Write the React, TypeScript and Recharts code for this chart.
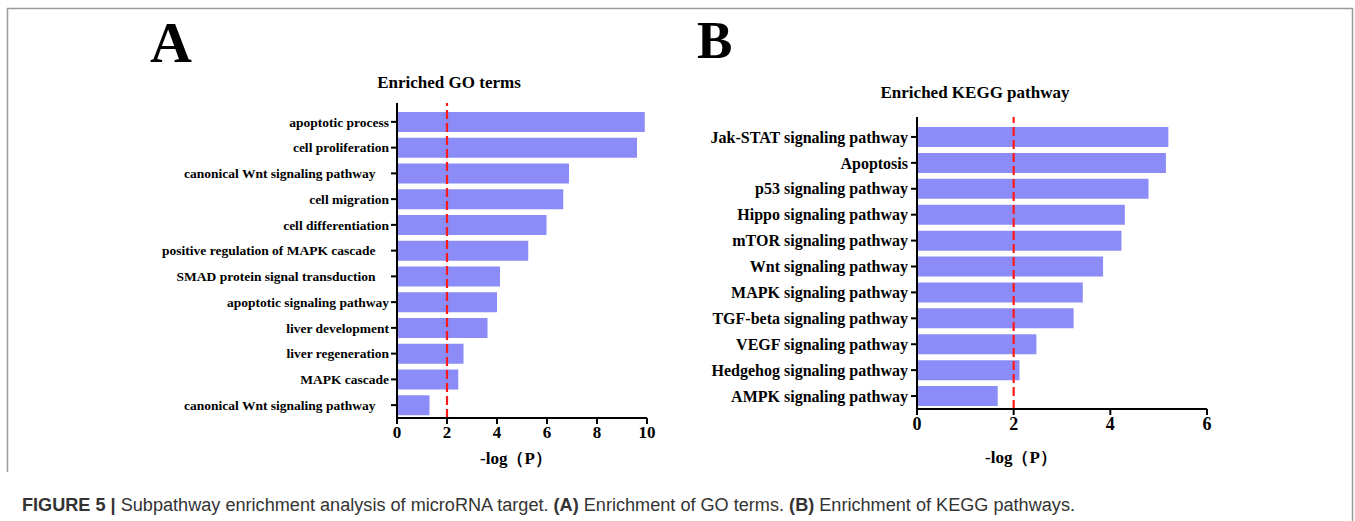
import { BarChart, Bar, XAxis, YAxis, ReferenceLine } from 'recharts'

// GO terms (panel A) — trailing nbsp mimic the padded labels of the original
const goTerms = [
  'apoptotic process',
  'cell proliferation',
  'canonical Wnt signaling pathway\u00a0\u00a0\u00a0\u00a0',
  'cell migration',
  'cell differentiation',
  'positive regulation of MAPK cascade\u00a0\u00a0\u00a0\u00a0',
  'SMAD protein signal transduction\u00a0\u00a0\u00a0\u00a0',
  'apoptotic signaling pathway',
  'liver development',
  'liver regeneration',
  'MAPK cascade',
  'canonical Wnt signaling pathway\u00a0\u00a0\u00a0\u00a0',
]
const goValues = [9.91, 9.6, 6.88, 6.65, 5.98, 5.25, 4.12, 4.0, 3.62, 2.66, 2.45, 1.3]
const goTicks = [0, 2, 4, 6, 8, 10]

// KEGG pathways (panel B)
const keggPathways = [
  'Jak-STAT signaling pathway',
  'Apoptosis',
  'p53 signaling pathway',
  'Hippo signaling pathway',
  'mTOR signaling pathway',
  'Wnt signaling pathway',
  'MAPK signaling pathway',
  'TGF-beta signaling pathway',
  'VEGF signaling pathway',
  'Hedgehog signaling pathway',
  'AMPK signaling pathway',
]
const keggValues = [5.2, 5.15, 4.79, 4.3, 4.23, 3.85, 3.43, 3.24, 2.47, 2.12, 1.67]
const keggTicks = [0, 2, 4, 6]

const cutoff = 2

const SERIF = "'Liberation Serif', 'Times New Roman', serif"
const BAR_COLOR = '#8b8cf7'

const goData = goTerms.map((term, i) => ({ term, value: goValues[i] }))
const keggData = keggPathways.map((term, i) => ({ term, value: keggValues[i] }))

export default function App() {
  return (
    <div style={{ position: 'absolute', left: 0, top: 0, width: 1355, height: 521, background: '#fff' }}>
      {/* frame, panel letters, titles, caption */}
      <svg width={1355} height={521} style={{ position: 'absolute', left: 0, top: 0 }}>
        <path d="M7.5 472 V8.5 H1352.5 V521" fill="none" stroke="#9a9a9a" strokeWidth={1.5} />
        <text x={150} y={62} fontFamily={SERIF} fontWeight="bold" fontSize={58}>A</text>
        <text x={697} y={58} fontFamily={SERIF} fontWeight="bold" fontSize={53}>B</text>
        <text x={449} y={88} textAnchor="middle" fontFamily={SERIF} fontWeight="bold" fontSize={17}>
          Enriched GO terms
        </text>
        <text x={975} y={98} textAnchor="middle" fontFamily={SERIF} fontWeight="bold" fontSize={17}>
          Enriched KEGG pathway
        </text>
        <text x={516} y={464} textAnchor="middle" fontFamily={SERIF} fontWeight="bold" fontSize={17}>
          -log（P）
        </text>
        <text x={1021} y={463} textAnchor="middle" fontFamily={SERIF} fontWeight="bold" fontSize={17}>
          -log（P）
        </text>
        <text
          x={22}
          y={511}
          fontFamily="'Liberation Sans', Arial, sans-serif"
          fontSize={18}
          fill="#333"
          textLength={1053}
          lengthAdjust="spacingAndGlyphs"
        >
          <tspan fontWeight="bold">FIGURE 5 | </tspan>
          <tspan>Subpathway enrichment analysis of microRNA target. </tspan>
          <tspan fontWeight="bold">(A)</tspan>
          <tspan> Enrichment of GO terms. </tspan>
          <tspan fontWeight="bold">(B)</tspan>
          <tspan> Enrichment of KEGG pathways.</tspan>
        </text>
      </svg>

      {/* Panel A */}
      <div style={{ position: 'absolute', left: 0, top: 0 }}>
        <BarChart
          width={680}
          height={470}
          data={goData}
          layout="vertical"
          margin={{ top: 103, right: 33, bottom: 22, left: 0 }}
        >
          <XAxis
            type="number"
            domain={[0, 10]}
            ticks={goTicks}
            height={30}
            tickSize={6}
            tickMargin={2}
            axisLine={{ stroke: '#000', strokeWidth: 2 }}
            tickLine={{ stroke: '#000', strokeWidth: 2 }}
            tick={{ fill: '#000', fontSize: 17, fontWeight: 'bold', fontFamily: SERIF }}
          />
          <YAxis
            type="category"
            dataKey="term"
            width={397}
            padding={{ top: 6, bottom: 0 }}
            interval={0}
            tickSize={6}
            tickMargin={2}
            axisLine={{ stroke: '#000', strokeWidth: 2 }}
            tickLine={{ stroke: '#000', strokeWidth: 2 }}
            tick={{ fill: '#000', fontSize: 13.5, fontWeight: 'bold', fontFamily: SERIF }}
          />
          <Bar dataKey="value" fill={BAR_COLOR} barSize={20} isAnimationActive={false} />
          <ReferenceLine x={cutoff} stroke="#ff1a1a" strokeWidth={2.2} strokeDasharray="9 4" />
        </BarChart>
      </div>

      {/* Panel B */}
      <div style={{ position: 'absolute', left: 700, top: 0 }}>
        <BarChart
          width={527}
          height={470}
          data={keggData}
          layout="vertical"
          margin={{ top: 117, right: 20, bottom: 31, left: 0 }}
        >
          <XAxis
            type="number"
            domain={[0, 6]}
            ticks={keggTicks}
            height={30}
            tickSize={6}
            tickMargin={2}
            axisLine={{ stroke: '#000', strokeWidth: 2 }}
            tickLine={{ stroke: '#000', strokeWidth: 2 }}
            tick={{ fill: '#000', fontSize: 18, fontWeight: 'bold', fontFamily: SERIF }}
          />
          <YAxis
            type="category"
            dataKey="term"
            width={217}
            padding={{ top: 7, bottom: 0 }}
            interval={0}
            tickSize={6}
            tickMargin={3}
            axisLine={{ stroke: '#000', strokeWidth: 2 }}
            tickLine={{ stroke: '#000', strokeWidth: 2 }}
            tick={{ fill: '#000', fontSize: 16, fontWeight: 'bold', fontFamily: SERIF }}
          />
          <Bar dataKey="value" fill={BAR_COLOR} barSize={20} isAnimationActive={false} />
          <ReferenceLine x={cutoff} stroke="#ff1a1a" strokeWidth={2.2} strokeDasharray="9 4" />
        </BarChart>
      </div>
    </div>
  )
}
